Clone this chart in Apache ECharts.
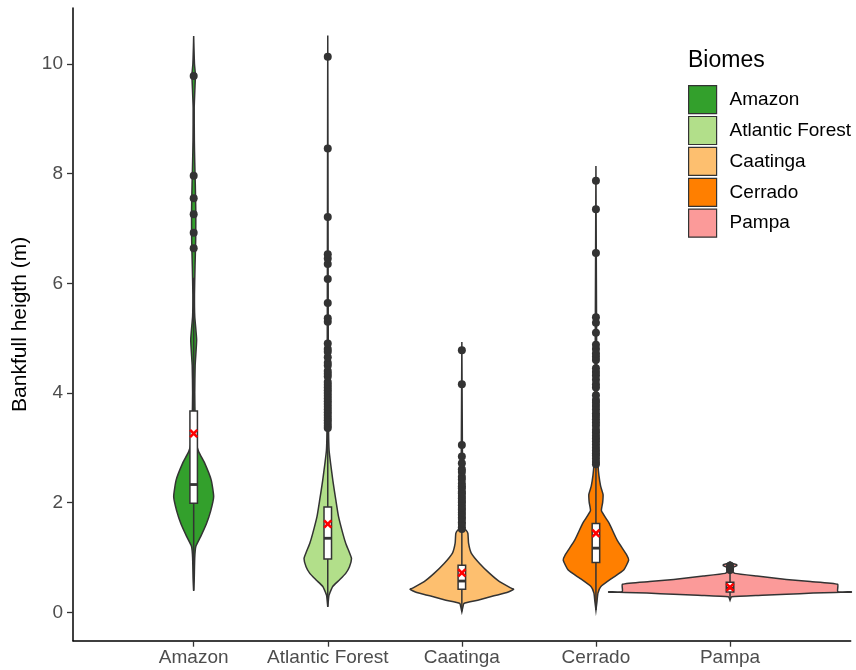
<!DOCTYPE html>
<html>
<head>
<meta charset="utf-8">
<script src="https://cdn.jsdelivr.net/npm/echarts@6/dist/echarts.min.js"></script>
<style>html,body{margin:0;padding:0;background:#fff;}#main{width:856px;height:670px;}</style>
</head>
<body>
<div id="main"></div>
<script>
const categories = ['Amazon', 'Atlantic Forest', 'Caatinga', 'Cerrado', 'Pampa'];
const colors = ['#33A02C', '#B2DF8A', '#FDBF6F', '#FF7F00', '#FB9A99'];
const yTicks = [0, 2, 4, 6, 8, 10];

// violin profiles: [value, half-width in category units]
const amazonViolin = [[0.39,0],[0.6,0.004],[1.0,0.008],[1.2,0.016],[1.38,0.052],[1.6,0.093],[1.85,0.127],[2.11,0.149],[2.41,0.131],[2.72,0.082],[2.93,0.037],[3.1,0.019],[3.5,0.011],[4.0,0.008],[4.5,0.011],[4.97,0.022],[5.4,0.008],[5.8,0.006],[6.3,0.01],[6.8,0.015],[7.3,0.016],[7.8,0.012],[8.2,0.008],[8.6,0.005],[9.2,0.004],[9.6,0.01],[9.8,0.013],[10.0,0.006],[10.3,0.002],[10.51,0]];
const atlanticViolin = [[0.10,0],[0.3,0.008],[0.35,0.015],[0.47,0.037],[0.59,0.087],[0.71,0.134],[0.83,0.162],[0.98,0.177],[1.1,0.16],[1.25,0.135],[1.44,0.112],[1.75,0.08],[2.05,0.06],[2.4,0.038],[2.7,0.022],[2.95,0.01],[3.3,0.006],[4.5,0.004],[6.0,0.003],[10.52,0]];
const caatingaViolin = [[0.01,0],[0.10,0.008],[0.16,0.015],[0.22,0.119],[0.30,0.239],[0.36,0.336],[0.42,0.386],[0.45,0.36],[0.56,0.281],[0.71,0.207],[0.89,0.132],[1.08,0.07],[1.26,0.05],[1.44,0.045],[1.5,0.03],[1.53,0.01],[1.6,0.008],[2.5,0.005],[4.93,0]];
const cerradoViolin = [[0.04,0],[0.2,0.008],[0.35,0.015],[0.47,0.037],[0.62,0.119],[0.77,0.207],[0.95,0.244],[1.04,0.231],[1.32,0.157],[1.62,0.099],[1.85,0.041],[2.0,0.05],[2.15,0.053],[2.3,0.035],[2.5,0.022],[2.7,0.015],[3.0,0.01],[5.0,0.005],[8.14,0]];
const pampaViolin = [[0.22,0],[0.26,0.006],[0.285,0.012],[0.31,0.24],[0.33,0.42],[0.35,0.62],[0.362,0.78],[0.366,0.905],[0.374,0.905],[0.378,0.803],[0.51,0.803],[0.56,0.6],[0.60,0.42],[0.66,0.2],[0.71,0.035],[0.75,0.02],[0.82,0.025],[0.85,0.05],[0.87,0.05],[0.89,0.02],[0.92,0]];

// box stats: [lower whisker, Q1, median, Q3, upper whisker]
const amazonBox = [0.40, 1.99, 2.33, 3.67, 6.10];
const atlanticBox = [0.10, 0.97, 1.35, 1.92, 3.33];
const caatingaBox = [0.02, 0.42, 0.57, 0.86, 1.50];
const cerradoBox = [0.04, 0.91, 1.17, 1.62, 2.66];
const pampaBox = [0.23, 0.37, 0.44, 0.55, 0.75];
const means = [3.26, 1.61, 0.72, 1.44, 0.456];

const amazonOutliers = [6.64, 6.92, 7.26, 7.55, 7.96, 9.78];
const atlanticOutliers = [3.36,3.4,3.45,3.5,3.55,3.6,3.65,3.7,3.75,3.8,3.85,3.9,3.95,4.0,4.05,4.1,4.15,4.2,4.3,4.35,4.4,4.5,4.55,4.65,4.75,4.8,4.9,5.3,5.36,5.64,6.08,6.35,6.45,6.53,7.21,8.46,10.13];
const caatingaOutliers = [1.52,1.55,1.61,1.64,1.7,1.73,1.78,1.82,1.87,1.9,1.95,2.0,2.03,2.08,2.12,2.17,2.2,2.26,2.3,2.35,2.42,2.47,2.56,2.61,2.72,2.84,3.05,4.16,4.78];
const cerradoOutliers = [2.7,2.74,2.8,2.86,2.9,2.95,3.0,3.06,3.12,3.17,3.22,3.28,3.33,3.4,3.46,3.52,3.58,3.63,3.7,3.76,3.82,3.87,3.96,4.1,4.16,4.24,4.32,4.38,4.45,4.6,4.66,4.72,4.8,4.88,5.1,5.28,5.38,6.55,7.35,7.87];
const pampaOutliers = [0.77, 0.81, 0.85];

const violins = [amazonViolin, atlanticViolin, caatingaViolin, cerradoViolin, pampaViolin];
const boxes = [amazonBox, atlanticBox, caatingaBox, cerradoBox, pampaBox];
const outliers = [amazonOutliers, atlanticOutliers, caatingaOutliers, cerradoOutliers, pampaOutliers];

const FONT = "'Liberation Sans', Arial, sans-serif";
const DARK = '#333333';

function violinSeries(idx) {
  const profile = violins[idx];
  return {
    type: 'custom', name: categories[idx],
    itemStyle: { color: colors[idx], borderColor: DARK, borderWidth: 1 },
    data: [[idx + 1]],
    renderItem: function (params, api) {
      const c = idx + 1;
      const right = profile.map(p => api.coord([c + p[1], p[0]]));
      const left = profile.slice().reverse().map(p => api.coord([c - p[1], p[0]]));
      return {
        type: 'polygon',
        shape: { points: right.concat(left), smooth: 0.15 },
        style: { fill: colors[idx], stroke: DARK, lineWidth: 1.5 }
      };
    }
  };
}

const boxData = boxes.map((b, i) => [i + 1].concat(b));
const boxSeries = {
  type: 'custom', name: 'box', data: boxData,
  renderItem: function (params, api) {
    const x = api.value(0);
    const low = api.coord([x, api.value(1)]);
    const q1 = api.coord([x, api.value(2)]);
    const med = api.coord([x, api.value(3)]);
    const q3 = api.coord([x, api.value(4)]);
    const high = api.coord([x, api.value(5)]);
    const hw = api.size([0.028, 0])[0];
    const cx = q1[0];
    return {
      type: 'group',
      children: [
        { type: 'line', shape: { x1: cx, y1: low[1], x2: cx, y2: q1[1] }, style: { stroke: DARK, lineWidth: 1.5 } },
        { type: 'line', shape: { x1: cx, y1: q3[1], x2: cx, y2: high[1] }, style: { stroke: DARK, lineWidth: 1.5 } },
        { type: 'rect', shape: { x: cx - hw, y: q3[1], width: 2 * hw, height: q1[1] - q3[1] }, style: { fill: '#fff', stroke: DARK, lineWidth: 1.5 } },
        { type: 'line', shape: { x1: cx - hw, y1: med[1], x2: cx + hw, y2: med[1] }, style: { stroke: DARK, lineWidth: 2.8 } }
      ]
    };
  }
};

const outlierData = [];
outliers.forEach((arr, i) => arr.forEach(v => outlierData.push([i + 1, v])));
const outlierSeries = {
  type: 'scatter', name: 'outliers', data: outlierData, symbolSize: 8,
  itemStyle: { color: DARK, opacity: 1 }
};

const meanSeries = {
  type: 'custom', name: 'mean', data: means.map((m, i) => [i + 1, m]),
  renderItem: function (params, api) {
    const p = api.coord([api.value(0), api.value(1)]);
    const s = 3.6;
    return {
      type: 'group',
      children: [
        { type: 'line', shape: { x1: p[0] - s, y1: p[1] - s, x2: p[0] + s, y2: p[1] + s }, style: { stroke: '#FF0000', lineWidth: 2.6 } },
        { type: 'line', shape: { x1: p[0] - s, y1: p[1] + s, x2: p[0] + s, y2: p[1] - s }, style: { stroke: '#FF0000', lineWidth: 2.6 } }
      ]
    };
  }
};

const chart = echarts.init(document.getElementById('main'), null, { renderer: 'canvas' });
chart.setOption({
  animation: false,
  backgroundColor: '#ffffff',
  textStyle: { fontFamily: FONT },
  title: {
    text: 'Biomes', left: 688, top: 49, padding: 0,
    textStyle: { fontSize: 23, fontWeight: 'normal', color: '#000', fontFamily: FONT }
  },
  legend: {
    orient: 'vertical', left: 688, top: 85, padding: 0,
    itemWidth: 28, itemHeight: 28, itemGap: 1.7, icon: 'rect',
    data: categories,
    itemStyle: { borderColor: DARK, borderWidth: 1.2 },
    textStyle: { fontSize: 19, color: '#000', fontFamily: FONT, padding: [0, 0, 0, 8] }
  },
  grid: { left: 73, right: 5.3, top: 8, bottom: 29.3 },
  xAxis: {
    type: 'value', min: 0.1, max: 5.9,
    splitLine: { show: false },
    axisLine: { onZero: false, lineStyle: { color: '#000', width: 1.5 } },
    axisTick: { customValues: [1, 2, 3, 4, 5], length: 6, lineStyle: { color: DARK, width: 1.3 } },
    axisLabel: {
      customValues: [1, 2, 3, 4, 5],
      formatter: v => categories[Math.round(v) - 1] || '',
      fontSize: 19, color: '#4D4D4D', margin: 8, fontFamily: FONT
    }
  },
  yAxis: {
    type: 'value', min: -0.518, max: 11.02,
    name: 'Bankfull heigth (m)', nameLocation: 'middle', nameGap: 36, nameRotate: 90,
    nameTextStyle: { fontSize: 21, color: '#000', fontFamily: FONT },
    splitLine: { show: false },
    axisLine: { onZero: false, lineStyle: { color: '#000', width: 1.5 } },
    axisTick: { customValues: yTicks, length: 6, lineStyle: { color: DARK, width: 1.3 } },
    axisLabel: { customValues: yTicks, fontSize: 19, color: '#4D4D4D', margin: 10, fontFamily: FONT }
  },
  series: [0, 1, 2, 3, 4].map(violinSeries).concat([boxSeries, outlierSeries, meanSeries])
});
</script>
</body>
</html>
